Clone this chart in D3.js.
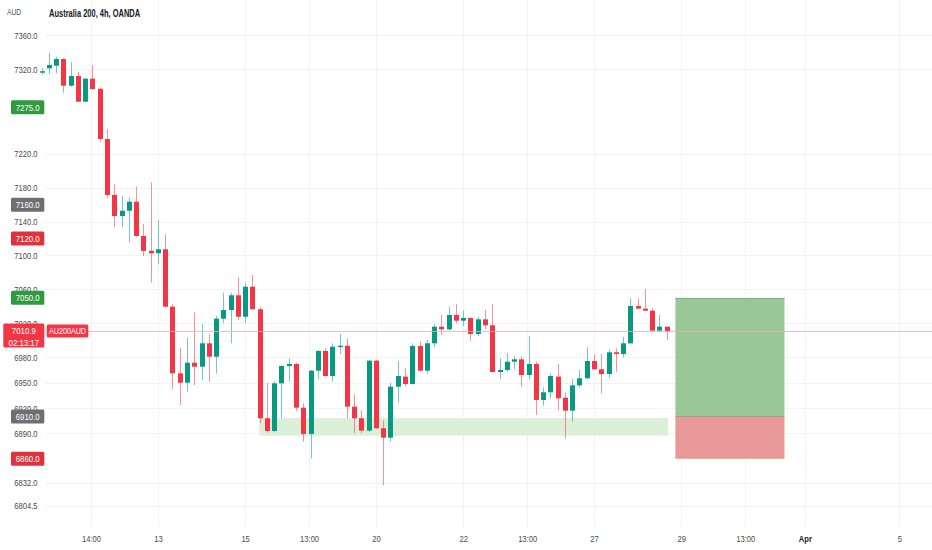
<!DOCTYPE html>
<html>
<head>
<meta charset="utf-8">
<script src="https://cdn.jsdelivr.net/npm/d3@7"></script>
<style>
	html, body { margin: 0; padding: 0; background: #fff; }
	svg { display: block; font-family: 'Liberation Sans', Arial, sans-serif; }
	.axis-y text, .axis-x text { font-size: 9.5px; fill: #4a4a4a; }
	.axis-x .bold text { font-weight: bold; fill: #222; }
	.grid line { stroke: #f3f3f3; stroke-width: 1; }
	.tag text { font-size: 9.8px; fill: #fff; }
</style>
</head>
<body>
<svg id="chart" width="932" height="550"></svg>
<script>
(function(d3) {
	'use strict';

	/** AU200AUD, 4h candles */
	var opens = [7316.5, 7320.9, 7324.0, 7331.9, 7300.4, 7311.8, 7281.5, 7308.7, 7296.8, 7237.5,
		7171.4, 7146.6, 7152.8, 7163.5, 7123.0, 7105.5, 7102.6, 7107.3, 7039.5, 6960.9,
		6949.8, 6973.4, 6968.7, 6996.3, 6980.5, 7025.4, 7035.6, 7053.0, 7027.7, 7063.1,
		7036.5, 6907.8, 6892.8, 6949.1, 6969.5, 6971.9, 6920.3, 6889.3, 6964.0, 6987.2,
		6957.7, 6992.3, 6993.5, 6921.5, 6907.8, 6893.2, 6975.8, 6896.0, 6884.9, 6945.1,
		6957.0, 6948.3, 6993.1, 6964.0, 6996.3, 7015.9, 7012.8, 7029.7, 7023.0, 7026.2,
		7007.3, 7024.6, 7017.6, 6962.4, 6964.8, 6974.6, 6977.4, 6958.9, 6971.9, 6929.4,
		6938.5, 6957.0, 6932.1, 6916.8, 6946.7, 6955.0, 6975.4, 6965.6, 6960.1, 6985.7,
		6983.7, 6996.3, 7040.3, 7037.2, 7034.8, 7011.2, 7015.9];
	var highs = [7321.0, 7339.3, 7334.6, 7332.5, 7328.0, 7316.9, 7309.2, 7324.8, 7297.0, 7248.9,
		7184.0, 7170.2, 7168.2, 7181.2, 7137.1, 7186.4, 7141.9, 7125.3, 7042.4, 6991.1,
		7002.9, 7032.9, 7019.1, 7006.9, 7028.9, 7056.0, 7056.0, 7074.2, 7067.9, 7076.9,
		7039.5, 6949.8, 6951.8, 6970.5, 6978.6, 6973.4, 6925.5, 6965.0, 6988.5, 6990.4,
		6996.3, 7007.3, 7002.2, 6936.5, 6917.6, 6976.5, 6976.5, 6905.0, 6949.8, 6975.4,
		6966.8, 6996.3, 6998.2, 7000.2, 7019.1, 7029.7, 7039.5, 7042.7, 7034.8, 7027.0,
		7027.7, 7035.6, 7042.7, 6978.6, 6984.5, 6981.3, 6980.5, 7004.9, 6974.6, 6944.4,
		6960.9, 6971.9, 6938.5, 6954.5, 6964.8, 6991.6, 6983.3, 6983.5, 6989.2, 6990.4,
		7004.1, 7049.4, 7049.4, 7060.1, 7037.6, 7029.7, 7016.5];
	var lows = [7313.0, 7314.2, 7315.0, 7292.1, 7299.2, 7281.0, 7281.0, 7295.3, 7233.6, 7167.5,
		7133.2, 7133.2, 7115.5, 7122.0, 7099.4, 7068.3, 7089.6, 7039.0, 6942.0, 6923.5,
		6939.2, 6947.1, 6953.0, 6951.0, 6960.9, 7019.9, 6996.3, 7023.8, 7019.9, 7036.0,
		6901.9, 6890.8, 6891.0, 6907.8, 6951.0, 6916.4, 6880.2, 6860.6, 6953.8, 6957.0,
		6951.0, 6983.7, 6907.8, 6890.1, 6890.1, 6891.5, 6895.5, 6829.0, 6880.2, 6926.2,
		6945.1, 6947.5, 6962.8, 6960.1, 6991.6, 7006.1, 7011.2, 7019.9, 7016.7, 6999.4,
		7004.9, 7012.8, 6962.0, 6953.8, 6962.8, 6965.6, 6944.4, 6953.8, 6911.7, 6922.7,
		6931.4, 6917.6, 6884.2, 6903.8, 6944.4, 6954.5, 6965.0, 6937.3, 6955.0, 6962.8,
		6979.8, 6995.5, 7037.0, 7034.5, 7011.0, 7011.0, 7000.2];
	var closes = [7317.5, 7324.8, 7331.9, 7300.4, 7311.8, 7281.5, 7308.7, 7296.5, 7237.5, 7171.4,
		7146.6, 7152.8, 7163.5, 7123.0, 7105.3, 7102.6, 7107.3, 7039.5, 6960.9, 6949.8,
		6973.4, 6968.7, 6996.3, 6980.5, 7025.4, 7035.6, 7053.0, 7027.7, 7063.1, 7036.5,
		6907.8, 6892.8, 6949.1, 6969.5, 6971.9, 6920.3, 6889.3, 6964.0, 6987.2, 6957.7,
		6992.3, 6993.5, 6921.5, 6907.8, 6893.2, 6975.8, 6896.0, 6884.9, 6945.1, 6957.7,
		6948.3, 6993.1, 6964.0, 6996.3, 7015.9, 7012.8, 7029.7, 7023.0, 7026.2, 7007.3,
		7024.6, 7017.6, 6962.4, 6964.8, 6974.6, 6977.4, 6958.9, 6971.9, 6929.4, 6938.5,
		6957.7, 6931.4, 6916.8, 6946.7, 6955.0, 6975.4, 6965.6, 6960.1, 6985.7, 6983.7,
		6996.3, 7040.3, 7037.2, 7034.8, 7011.2, 7015.9, 7010.9];

	/** axes (x ticks are in bar units) */
	var yTicks = [7360, 7320, 7220, 7180, 7140, 7100, 7060, 7020, 6980, 6950, 6920, 6890, 6832, 6804.5];
	var xTicks = [6.8, 16, 28, 36.8, 46, 58, 66.8, 76, 88, 96.8, 105, 118];
	var xTickLabels = ['14:00', '13', '15', '13:00', '20', '22', '13:00', '27', '29', '13:00', 'Apr', '5'];

	/** price tags on the scale */
	var tagValues = [7275, 7160, 7120, 7050, 6910, 6860];
	var tagKinds = ['target', 'entry', 'stop', 'target', 'entry', 'stop'];

	/** long position tool and support zone */
	var positionRange = [87.2, 102.2];
	var positionTarget = 7050, positionEntry = 6910, positionStop = 6860;
	var zoneRange = [29.95, 86.2];
	var zonePrices = [6908, 6887.3];

	var lastPrice = 7010.9, countdown = '02:13:17', symbol = 'AU200AUD';
	var title = 'Australia 200, 4h, OANDA', currency = 'AUD';

	var width = 932;
	var up = '#089981', down = '#f23645';
	var tagColors = { 'target': '#2f9a3e', 'entry': '#6e6f73', 'stop': '#e0313d' };

	var svg = d3.select('#chart');
	var bars = d3.range(opens.length);

	var x = d3.scaleLinear().domain([0, bars.length - 1]).range([41.6, 666.7]);
	var y = d3.scaleLinear().domain([7360, 6804.5]).range([35.2, 505.8]);
	var step = x(1) - x(0), bodyWidth = Math.round(step * 0.74);
	var crisp = function(v) {
		return Math.round(v) + 0.5;
	};

	// the screenshot text is narrow, so squeeze glyphs horizontally around their anchor
	var squeezeText = function(selection, factor) {
		selection.each(function() {
			var t = d3.select(this);
			var tx = +t.attr('x') || 0, ty = +t.attr('y') || 0;
			t.attr('x', 0).attr('y', 0).attr('transform', 'translate(' + tx + ',' + ty + ') scale(' + factor + ',1)');
		});
	};

	/** grid */
	var grid = svg.append('g').attr('class', 'grid');
	grid.selectAll('line.h').data(yTicks).enter().append('line').attr('class', 'h')
		.attr('x1', 45).attr('x2', width)
		.attr('y1', function(d) { return crisp(y(d)); })
		.attr('y2', function(d) { return crisp(y(d)); });
	grid.selectAll('line.v').data(xTicks).enter().append('line').attr('class', 'v')
		.attr('y1', 0).attr('y2', 527)
		.attr('x1', function(d) { return crisp(x(d)); })
		.attr('x2', function(d) { return crisp(x(d)); });

	/** support zone */
	svg.append('rect')
		.attr('x', x(zoneRange[0])).attr('width', x(zoneRange[1]) - x(zoneRange[0]))
		.attr('y', y(zonePrices[0])).attr('height', y(zonePrices[1]) - y(zonePrices[0]))
		.attr('fill', '#dcefd9');

	/** position box */
	var pos = svg.append('g');
	pos.append('rect')
		.attr('x', x(positionRange[0])).attr('width', x(positionRange[1]) - x(positionRange[0]))
		.attr('y', y(positionTarget)).attr('height', y(positionEntry) - y(positionTarget))
		.attr('fill', '#99c797');
	pos.append('rect')
		.attr('x', x(positionRange[0])).attr('width', x(positionRange[1]) - x(positionRange[0]))
		.attr('y', y(positionEntry)).attr('height', y(positionStop) - y(positionEntry))
		.attr('fill', '#e89896');
	pos.selectAll('line').data([positionTarget, positionEntry]).enter().append('line')
		.attr('x1', x(positionRange[0])).attr('x2', x(positionRange[1]))
		.attr('y1', function(d) { return crisp(y(d)); })
		.attr('y2', function(d) { return crisp(y(d)); })
		.attr('stroke', function(d, i) { return i === 0 ? '#7fb27d' : '#a99a8c'; })
		.attr('stroke-width', 1);

	/** candles */
	var candles = svg.append('g').selectAll('g').data(bars).enter().append('g');
	var colorOf = function(i) {
		return closes[i] >= opens[i] ? up : down;
	};
	candles.append('line')
		.attr('x1', function(i) { return crisp(x(i)); })
		.attr('x2', function(i) { return crisp(x(i)); })
		.attr('y1', function(i) { return y(highs[i]); })
		.attr('y2', function(i) { return y(lows[i]); })
		.attr('stroke', colorOf).attr('stroke-opacity', 0.55).attr('stroke-width', 1);
	candles.append('rect')
		.attr('x', function(i) { return crisp(x(i)) - bodyWidth / 2; })
		.attr('width', bodyWidth)
		.attr('y', function(i) { return y(Math.max(opens[i], closes[i])); })
		.attr('height', function(i) { return Math.max(1.5, Math.abs(y(opens[i]) - y(closes[i]))); })
		.attr('fill', colorOf);

	/** last price line */
	svg.append('line')
		.attr('x1', 88).attr('x2', width)
		.attr('y1', crisp(y(lastPrice))).attr('y2', crisp(y(lastPrice)))
		.attr('stroke', '#f5aab1').attr('stroke-opacity', 0.8).attr('stroke-width', 1);

	/** axes */
	var yAxis = d3.axisLeft(y).tickValues(yTicks).tickFormat(d3.format('.1f')).tickSize(0).tickPadding(0);
	svg.append('g').attr('class', 'axis-y').attr('transform', 'translate(37.5,0)').call(yAxis)
		.call(function(g) { g.select('.domain').remove(); });

	var xAxis = d3.axisBottom(x).tickValues(xTicks).tickSize(0).tickPadding(3).tickFormat(function(d, i) {
		return xTickLabels[i];
	});
	svg.append('g').attr('class', 'axis-x').attr('transform', 'translate(0,532)').call(xAxis)
		.call(function(g) {
			g.select('.domain').remove();
			g.selectAll('.tick').classed('bold', function(d, i) { return xTickLabels[i] === 'Apr'; });
		});

	/** tags */
	var tags = svg.append('g').attr('class', 'tag').selectAll('g').data(tagValues).enter().append('g');
	tags.append('rect')
		.attr('x', 11).attr('width', 33.3)
		.attr('y', function(d) { return y(d) - 7; }).attr('height', 14).attr('rx', 1.5)
		.attr('fill', function(d, i) { return tagColors[tagKinds[i]]; });
	tags.append('text')
		.attr('x', 27.7).attr('y', function(d) { return y(d); }).attr('dy', '0.35em')
		.attr('text-anchor', 'middle').text(d3.format('.1f'));

	var last = svg.append('g').attr('class', 'tag');
	last.append('rect').attr('x', 3.3).attr('width', 41).attr('y', y(lastPrice) - 7.5).attr('height', 24)
		.attr('rx', 1.5).attr('fill', down);
	last.append('text').attr('x', 23.8).attr('y', y(lastPrice)).attr('dy', '0.35em')
		.attr('text-anchor', 'middle').text(d3.format('.1f')(lastPrice));
	last.append('text').attr('x', 23.8).attr('y', y(lastPrice) + 11.5).attr('dy', '0.35em')
		.attr('text-anchor', 'middle').text(countdown);
	last.append('rect').attr('x', 46.7).attr('width', 41.6).attr('y', y(lastPrice) - 6.5).attr('height', 13)
		.attr('rx', 1.5).attr('fill', down);
	last.append('text').attr('x', 67.5).attr('y', y(lastPrice)).attr('dy', '0.35em')
		.attr('text-anchor', 'middle').style('font-size', '9px').text(symbol);

	/** header */
	var head = svg.append('g');
	head.append('text').attr('class', 'currency').attr('x', 7).attr('y', 14.5)
		.style('font-size', '9px').attr('fill', '#4f4f4f').text(currency);
	head.append('text').attr('class', 'title').attr('x', 49).attr('y', 17)
		.style('font-size', '10px').style('font-weight', 'bold').attr('fill', '#131722').text(title);

	svg.selectAll('.axis-y text, .axis-x text, .tag text').call(squeezeText, 0.8);
	head.selectAll('text').call(squeezeText, 0.75);
})(d3);
</script>
</body>
</html>
